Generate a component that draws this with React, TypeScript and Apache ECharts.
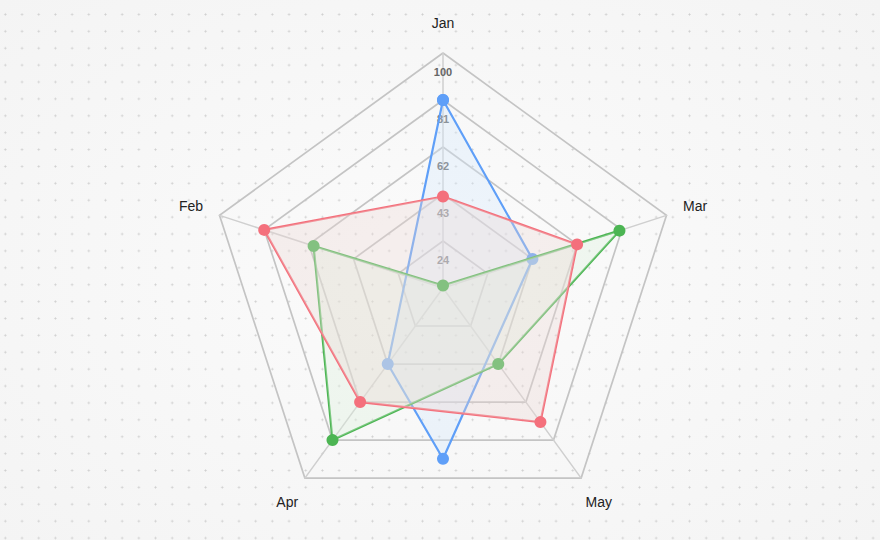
import * as echarts from 'echarts';
import { useEffect, useRef } from 'react';

// radar order, counter-clockwise from the top
const indicatorNames = ['Jan', 'Feb', 'Apr', 'May', 'Mar'];
const axisMin = 5;
const axisMax = 100;
const splitCount = 5;

const redValues = [42, 81, 62, 72, 62];
const greenValues = [6, 60, 81, 43, 80];

// blue series: radius value + angle (deg, counter-clockwise from 3 o'clock)
const blueValues = [81, 43, 74, 43, 81];
const blueAngles = [90, 18, 270, 234, 90];

const BLUE = '#5f9ff8';
const RED = '#f4707c';
const GREEN = '#4cb553';
const FONT = 'Helvetica, Arial, "Liberation Sans", sans-serif';

export default function App() {
  const chartRef = useRef<HTMLDivElement>(null);

  useEffect(() => {
    if (!chartRef.current) return;
    const chart = echarts.init(chartRef.current, undefined, { renderer: 'svg' });

    const center = [443, 288];
    const radius = 235;

    chart.setOption({
      animation: false,
      backgroundColor: 'transparent',
      radar: {
        center,
        radius,
        startAngle: 90,
        splitNumber: splitCount,
        nameGap: 30,
        axisName: {
          color: '#222',
          fontSize: 14,
          fontFamily: FONT,
          align: 'center',
          verticalAlign: 'middle',
        },
        indicator: indicatorNames.map((name, i) => ({
          name,
          min: axisMin,
          max: axisMax,
          ...(i === 0 ? {
            axisLabel: {
              show: true,
              showMinLabel: false,
              margin: 0,
              align: 'center',
              verticalAlign: 'top',
              padding: [13, 0, 0, 0],
              color: '#666',
              fontSize: 11,
              fontWeight: 600,
              fontFamily: FONT,
            },
          } : {}),
        })),
        axisLabel: { show: false },
        axisTick: { show: false },
        axisLine: { lineStyle: { color: '#cfcfcf', width: 1.5 } },
        splitLine: { lineStyle: { color: '#c4c4c4', width: 1.7 } },
        splitArea: { show: false },
      },
      polar: { center, radius },
      angleAxis: {
        type: 'value',
        min: 0,
        max: 360,
        startAngle: 0,
        clockwise: false,
        show: false,
        axisLine: { show: false },
        splitLine: { show: false },
        axisLabel: { show: false },
        axisTick: { show: false },
      },
      radiusAxis: {
        type: 'value',
        min: axisMin,
        max: axisMax,
        show: false,
        axisLine: { show: false },
        splitLine: { show: false },
        axisLabel: { show: false },
        axisTick: { show: false },
      },
      series: [
        {
          type: 'line',
          coordinateSystem: 'polar',
          z: 1,
          data: blueValues.map((v, i) => [v, blueAngles[i]]),
          symbol: 'circle',
          symbolSize: 12,
          clip: false,
          itemStyle: { color: BLUE },
          lineStyle: { color: BLUE, width: 2.2 },
          areaStyle: { color: 'rgb(212,232,252)', opacity: 0.35 },
        },
        {
          type: 'radar',
          z: 2,
          symbol: 'circle',
          symbolSize: 12,
          data: [{
            value: greenValues,
            itemStyle: { color: GREEN },
            lineStyle: { color: GREEN, width: 2.2 },
            areaStyle: { color: 'rgb(220,240,220)', opacity: 0.35 },
          }],
        },
        {
          type: 'radar',
          z: 3,
          symbol: 'circle',
          symbolSize: 12,
          data: [{
            value: redValues,
            itemStyle: { color: RED },
            lineStyle: { color: RED, width: 2.2 },
            areaStyle: { color: 'rgb(236,214,212)', opacity: 0.35 },
          }],
        },
      ],
    });

    return () => chart.dispose();
  }, []);

  return (
    <div
      style={{
        position: 'fixed',
        left: 0,
        top: 0,
        width: 880,
        height: 540,
        backgroundColor: '#f7f7f7',
        backgroundImage:
          'radial-gradient(circle, #cfcfcf 0.8px, transparent 1.3px), radial-gradient(ellipse at center, #fbfbfb 0%, #f4f4f4 100%)',
        backgroundSize: '16.7px 16.9px, 100% 100%',
        backgroundPosition: '-3px 6px, 0 0',
      }}
    >
      <div ref={chartRef} style={{ width: 880, height: 540 }} />
    </div>
  );
}
